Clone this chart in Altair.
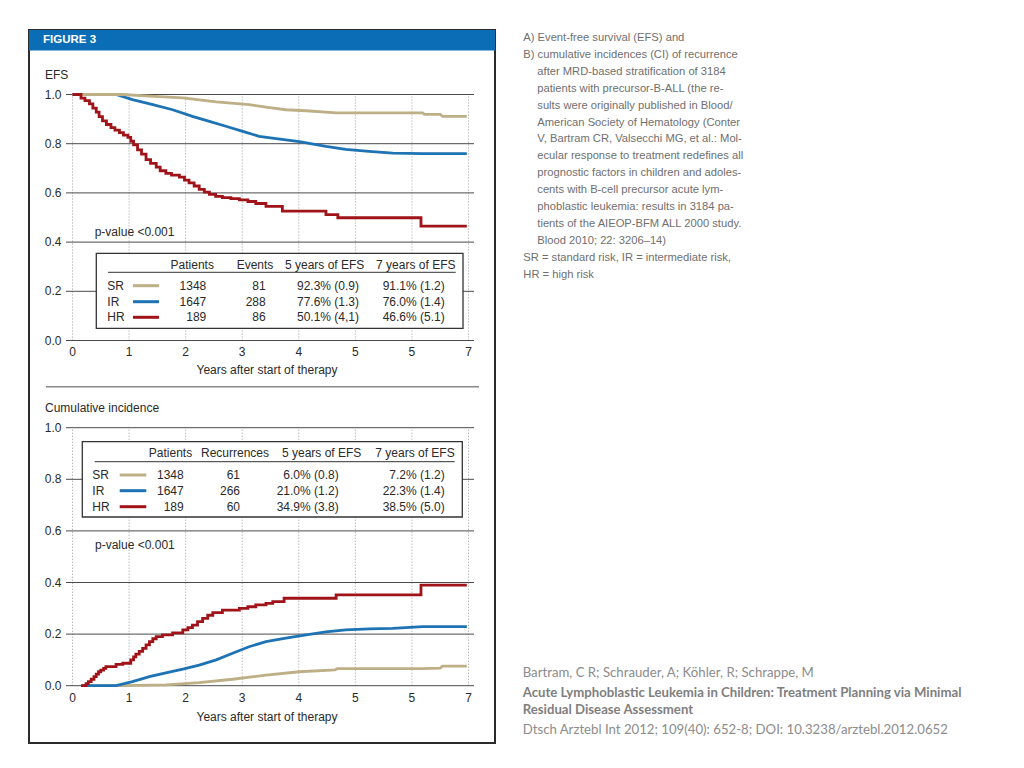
import altair as alt
import pandas as pd

# ---------------- data ----------------
groups = ["SR", "IR", "HR"]
colors = ["#bdb086", "#1e73b4", "#a01419"]

year_ticks = [0, 1, 2, 3, 4, 5, 6, 7]
year_labels = ["0", "1", "2", "3", "4", "5", "5", "7"]
y_ticks = [0.0, 0.2, 0.4, 0.6, 0.8, 1.0]
y_labels = ["0.0", "0.2", "0.4", "0.6", "0.8", "1.0"]

# Panel A: event-free survival
efs_sr_t = [0, 0.89, 1.36, 1.95, 2.54, 3.12, 3.42, 3.77, 4.13, 4.66, 6.19, 6.22, 6.50, 6.54, 6.97]
efs_sr_v = [1.0, 1.0, 0.993, 0.986, 0.970, 0.959, 0.949, 0.938, 0.934, 0.925, 0.925, 0.919, 0.919, 0.911, 0.911]
efs_ir_t = [0, 0.77, 1.06, 1.42, 1.77, 2.12, 2.42, 2.71, 3.01, 3.30, 3.60, 4.01, 4.48, 4.83, 5.24, 5.66, 6.19, 6.97]
efs_ir_v = [1.0, 1.0, 0.979, 0.959, 0.938, 0.911, 0.891, 0.871, 0.850, 0.830, 0.821, 0.808, 0.789, 0.777, 0.769, 0.762, 0.760, 0.760]
efs_hr_t = [0, 0.15, 0.22, 0.30, 0.36, 0.42, 0.47, 0.53, 0.60, 0.68, 0.75, 0.83, 0.90, 0.98, 1.03, 1.08,
            1.15, 1.22, 1.30, 1.38, 1.48, 1.55, 1.65, 1.75, 1.89, 1.98, 2.06, 2.15, 2.24, 2.33, 2.42,
            2.53, 2.65, 2.80, 2.95, 3.10, 3.24, 3.42, 3.71, 4.48, 4.69, 6.16, 6.97]
efs_hr_v = [1.0, 0.985, 0.975, 0.962, 0.945, 0.928, 0.910, 0.893, 0.878, 0.865, 0.855, 0.845, 0.835,
            0.826, 0.810, 0.795, 0.775, 0.758, 0.735, 0.720, 0.705, 0.690, 0.679, 0.672, 0.664, 0.652,
            0.641, 0.628, 0.614, 0.603, 0.594, 0.586, 0.581, 0.577, 0.572, 0.565, 0.557, 0.545, 0.526,
            0.512, 0.499, 0.465, 0.465]

# Panel B: cumulative incidence of recurrence
ci_sr_t = [0.17, 0.89, 1.65, 2.24, 2.83, 3.42, 4.01, 4.64, 4.68, 6.19, 6.50, 6.54, 6.97]
ci_sr_v = [0.0, 0.0, 0.003, 0.012, 0.025, 0.041, 0.054, 0.061, 0.066, 0.066, 0.068, 0.076, 0.076]
ci_ir_t = [0.17, 0.77, 1.06, 1.36, 1.65, 1.95, 2.24, 2.54, 2.83, 3.12, 3.42, 3.77, 4.13, 4.48, 4.83,
           5.24, 5.66, 6.19, 6.97]
ci_ir_v = [0.0, 0.0, 0.016, 0.035, 0.050, 0.064, 0.080, 0.100, 0.126, 0.151, 0.171, 0.184, 0.197,
           0.209, 0.216, 0.220, 0.222, 0.229, 0.229]
ci_hr_t = [0.15, 0.24, 0.28, 0.33, 0.38, 0.42, 0.46, 0.50, 0.55, 0.59, 0.77, 0.89, 1.03, 1.08, 1.12,
           1.18, 1.24, 1.30, 1.36, 1.42, 1.48, 1.59, 1.77, 1.95, 2.04, 2.12, 2.21, 2.30, 2.39, 2.48,
           2.65, 2.95, 3.10, 3.24, 3.42, 3.54, 3.74, 4.66, 6.16, 6.97]
ci_hr_v = [0.0, 0.008, 0.016, 0.025, 0.035, 0.045, 0.054, 0.060, 0.067, 0.074, 0.083, 0.087, 0.100,
           0.112, 0.122, 0.133, 0.145, 0.158, 0.171, 0.182, 0.190, 0.197, 0.205, 0.216, 0.225, 0.235,
           0.248, 0.261, 0.273, 0.283, 0.293, 0.300, 0.306, 0.313, 0.319, 0.326, 0.339, 0.352, 0.390,
           0.390]

efs_headers = ["Patients", "Events", "5 years of EFS", "7 years of EFS"]
efs_patients = ["1348", "1647", "189"]
efs_events = ["81", "288", "86"]
efs_5y = ["92.3% (0.9)", "77.6% (1.3)", "50.1% (4,1)"]
efs_7y = ["91.1% (1.2)", "76.0% (1.4)", "46.6% (5.1)"]

ci_headers = ["Patients", "Recurrences", "5 years of EFS", "7 years of EFS"]
ci_patients = ["1348", "1647", "189"]
ci_recur = ["61", "266", "60"]
ci_5y = ["6.0% (0.8)", "21.0% (1.2)", "34.9% (3.8)"]
ci_7y = ["7.2% (1.2)", "22.3% (1.4)", "38.5% (5.0)"]

figure_label = "FIGURE 3"
efs_title = "EFS"
ci_title = "Cumulative incidence"
x_title = "Years after start of therapy"
pvalue_text = "p-value <0.001"

caption_lines = [
    "A) Event-free survival (EFS) and",
    "B) cumulative incidences (CI) of recurrence",
    "after MRD-based stratification of 3184",
    "patients with precursor-B-ALL (the re-",
    "sults were originally published in Blood/",
    "American Society of Hematology (Conter",
    "V, Bartram CR, Valsecchi MG, et al.: Mol-",
    "ecular response to treatment redefines all",
    "prognostic factors in children and adoles-",
    "cents with B-cell precursor acute lym-",
    "phoblastic leukemia: results in 3184 pa-",
    "tients of the AIEOP-BFM ALL 2000 study.",
    "Blood 2010; 22: 3206\u201314)",
    "SR = standard risk, IR = intermediate risk,",
    "HR = high risk",
]
citation_authors = "Bartram, C R; Schrauder, A; K\u00f6hler, R; Schrappe, M"
citation_title = ["Acute Lymphoblastic Leukemia in Children: Treatment Planning via Minimal",
                  "Residual Disease Assessment"]
citation_source = "Dtsch Arztebl Int 2012; 109(40): 652-8; DOI: 10.3238/arztebl.2012.0652"

# ---------------- layout ----------------
M = 8  # page margin
X0, X7 = 72.5, 468.5
PPY = (X7 - X0) / 7.0
TOP_Y0, TOP_Y1 = 340.5, 94.5
BOT_Y0, BOT_Y1 = 685.7, 427.7
GRID_X0, GRID_X1 = 66.0, 474.0
FONT = "Liberation Sans, Arial, Helvetica, sans-serif"
CAP_FONT = "Liberation Sans, Arial, Helvetica, sans-serif"
CITE_FONT = "Lato, Open Sans, sans-serif"
TXT = "#2a2a2a"


def yr(px):
    return (px - X0) / PPY


def vt(py):
    return (TOP_Y0 - py) / (TOP_Y0 - TOP_Y1)


def vb(py):
    return (BOT_Y0 - py) / (BOT_Y0 - BOT_Y1)


xs = alt.Scale(domain=[0, 7], range=[X0 - M, X7 - M], nice=False, zero=False)
ys_top = alt.Scale(domain=[0, 1], range=[TOP_Y0 - M, TOP_Y1 - M], nice=False, zero=False)
ys_bot = alt.Scale(domain=[0, 1], range=[BOT_Y0 - M, BOT_Y1 - M], nice=False, zero=False)
cscale = alt.Scale(domain=groups, range=colors)


def one():
    return pd.DataFrame({"k": [0]})


def vtext(text, px, py, align="left", size=12, color=TXT, font=FONT, weight="normal"):
    return alt.Chart(one()).mark_text(
        text=text, align=align, baseline="middle", fontSize=size, color=color,
        font=font, fontWeight=weight
    ).encode(x=alt.value(px - M), y=alt.value(py - M))


def build_panel(ys, conv, curves, headers, cols, tb, label_py):
    layers = []
    gv = pd.DataFrame({"t": year_ticks})
    gv["y1"] = 0.0
    gv["y2"] = 1.0
    layers.append(alt.Chart(gv).mark_rule(color="#9a9a9a", strokeWidth=1, strokeDash=[1, 2]).encode(
        x=alt.X("t:Q", scale=xs, axis=None),
        y=alt.Y("y1:Q", scale=ys, axis=None), y2="y2:Q"))
    gh = pd.DataFrame({"v": y_ticks})
    gh["x1"] = yr(GRID_X0)
    gh["x2"] = yr(GRID_X1)
    layers.append(alt.Chart(gh).mark_rule(color="#4a4a4a", strokeWidth=1).encode(
        x=alt.X("x1:Q", scale=xs, axis=None), x2="x2:Q",
        y=alt.Y("v:Q", scale=ys, axis=None)))
    # tick labels
    yl = pd.DataFrame({"v": y_ticks, "lab": y_labels})
    yl["lx"] = yr(61.5)
    layers.append(alt.Chart(yl).mark_text(align="right", baseline="middle", fontSize=12,
                                          font=FONT, color=TXT).encode(
        x=alt.X("lx:Q", scale=xs, axis=None), y=alt.Y("v:Q", scale=ys, axis=None), text="lab:N"))
    xl = pd.DataFrame({"t": year_ticks, "lab": year_labels})
    xl["ly"] = conv(label_py)
    layers.append(alt.Chart(xl).mark_text(align="center", baseline="middle", fontSize=12,
                                          font=FONT, color=TXT).encode(
        x=alt.X("t:Q", scale=xs, axis=None), y=alt.Y("ly:Q", scale=ys, axis=None), text="lab:N"))
    # curves
    for t, v, g, interp in curves:
        d = pd.DataFrame({"t": t, "v": v, "i": range(len(t)), "g": g})
        layers.append(alt.Chart(d).mark_line(strokeWidth=2.8, interpolate=interp).encode(
            x=alt.X("t:Q", scale=xs, axis=None), y=alt.Y("v:Q", scale=ys, axis=None),
            order="i:Q", color=alt.Color("g:N", scale=cscale, legend=None)))
    # legend table box
    box = pd.DataFrame({"x1": [yr(tb["box"][0])], "x2": [yr(tb["box"][1])],
                        "y1": [conv(tb["box"][2])], "y2": [conv(tb["box"][3])]})
    layers.append(alt.Chart(box).mark_rect(fill="white", stroke="#333333", strokeWidth=1.3).encode(
        x=alt.X("x1:Q", scale=xs, axis=None), x2="x2:Q",
        y=alt.Y("y1:Q", scale=ys, axis=None), y2="y2:Q"))
    ul = pd.DataFrame({"x1": [yr(tb["ul"][0])], "x2": [yr(tb["ul"][1])], "y": [conv(tb["ul"][2])]})
    layers.append(alt.Chart(ul).mark_rule(color="#333333", strokeWidth=1).encode(
        x=alt.X("x1:Q", scale=xs, axis=None), x2="x2:Q", y=alt.Y("y:Q", scale=ys, axis=None)))
    rows_y = [conv(p) for p in tb["rows"]]
    sw = pd.DataFrame({"g": groups, "y": rows_y})
    sw["x1"] = yr(tb["swatch"][0])
    sw["x2"] = yr(tb["swatch"][1])
    layers.append(alt.Chart(sw).mark_rule(strokeWidth=3).encode(
        x=alt.X("x1:Q", scale=xs, axis=None), x2="x2:Q", y=alt.Y("y:Q", scale=ys, axis=None),
        color=alt.Color("g:N", scale=cscale, legend=None)))
    # row labels
    rl = pd.DataFrame({"txt": groups, "y": rows_y})
    rl["x"] = yr(tb["label_x"])
    layers.append(alt.Chart(rl).mark_text(align="left", baseline="middle", fontSize=12,
                                          font=FONT, color=TXT).encode(
        x=alt.X("x:Q", scale=xs, axis=None), y=alt.Y("y:Q", scale=ys, axis=None), text="txt:N"))
    # values (right aligned)
    recs = []
    for col, px in zip(cols, tb["val_x"]):
        for val, y in zip(col, rows_y):
            recs.append({"txt": val, "x": yr(px), "y": y})
    layers.append(alt.Chart(pd.DataFrame(recs)).mark_text(
        align="right", baseline="middle", fontSize=12, font=FONT, color=TXT).encode(
        x=alt.X("x:Q", scale=xs, axis=None), y=alt.Y("y:Q", scale=ys, axis=None), text="txt:N"))
    hd = pd.DataFrame({"txt": headers, "x": [yr(p) for p in tb["head_x"]]})
    hd["y"] = conv(tb["head_y"])
    layers.append(alt.Chart(hd).mark_text(
        align="center", baseline="middle", fontSize=12, font=FONT, color=TXT).encode(
        x=alt.X("x:Q", scale=xs, axis=None), y=alt.Y("y:Q", scale=ys, axis=None), text="txt:N"))
    return alt.layer(*layers)


top_table = {
    "box": (96.3, 463.0, 253.3, 328.3),
    "ul": (108.0, 455.7, 272.3),
    "rows": (285.7, 301.7, 317.3),
    "swatch": (133.0, 159.0),
    "label_x": 107.3,
    "val_x": (206.3, 265.7, 359.0, 444.7),
    "head_x": (192.2, 255.0, 324.7, 415.8),
    "head_y": 265.0,
}
bot_table = {
    "box": (82.3, 462.3, 441.7, 517.0),
    "ul": (94.7, 454.7, 461.7),
    "rows": (475.0, 490.7, 506.7),
    "swatch": (119.7, 146.3),
    "label_x": 92.3,
    "val_x": (183.7, 240.0, 338.7, 444.7),
    "head_x": (170.5, 235.0, 321.7, 415.0),
    "head_y": 453.3,
}

top = build_panel(
    ys_top, vt,
    [(efs_ir_t, efs_ir_v, "IR", "linear"), (efs_sr_t, efs_sr_v, "SR", "linear"),
     (efs_hr_t, efs_hr_v, "HR", "step-after")],
    efs_headers, [efs_patients, efs_events, efs_5y, efs_7y], top_table, 351.5)

bot = build_panel(
    ys_bot, vb,
    [(ci_sr_t, ci_sr_v, "SR", "linear"), (ci_ir_t, ci_ir_v, "IR", "linear"),
     (ci_hr_t, ci_hr_v, "HR", "step-after")],
    ci_headers, [ci_patients, ci_recur, ci_5y, ci_7y], bot_table, 698.0)

# caption block on the right
cap = pd.DataFrame({"txt": caption_lines, "ln": range(len(caption_lines))})
cap["ind"] = [1 if 2 <= i <= 12 else 0 for i in range(len(caption_lines))]
caption = alt.Chart(cap).mark_text(align="left", baseline="middle", fontSize=11.2,
                                   font=CAP_FONT, color="#6f6f6f").encode(
    x=alt.X("ind:Q", scale=alt.Scale(domain=[0, 1], range=[523.3 - M, 537.3 - M]), axis=None),
    y=alt.Y("ln:Q", scale=alt.Scale(domain=[0, len(caption_lines) - 1], range=[38 - M, 274.7 - M]),
            axis=None),
    text="txt:N")

frame = alt.Chart(one()).mark_rect(fillOpacity=0, stroke="#2b2b2b", strokeWidth=2).encode(
    x=alt.value(29 - M), x2=alt.value(495 - M), y=alt.value(30 - M), y2=alt.value(743 - M))
header = alt.Chart(one()).mark_rect(color="#0b6db5").encode(
    x=alt.value(29 - M), x2=alt.value(495 - M), y=alt.value(30 - M), y2=alt.value(50.5 - M))
separator = alt.Chart(one()).mark_rule(color="#8a8a8a", strokeWidth=1.5).encode(
    x=alt.value(46 - M), x2=alt.value(479 - M), y=alt.value(386.7 - M))

deco = [
    frame, header, separator,
    vtext(figure_label, 43, 40, size=11.5, color="white", font=FONT, weight="bold"),
    vtext(efs_title, 45, 75),
    vtext(pvalue_text, 94.7, 231.7),
    vtext(x_title, 267, 370, align="center"),
    vtext(ci_title, 45, 408),
    vtext(pvalue_text, 95, 545),
    vtext(x_title, 267, 716.7, align="center"),
    vtext(citation_authors, 522.7, 673.3, size=13.2, color="#8c8c8c", font=CITE_FONT),
    vtext(citation_title[0], 522.7, 692.7, size=13.2, color="#7f7f7f", font=CITE_FONT, weight="bold"),
    vtext(citation_title[1], 522.7, 710.0, size=13.2, color="#7f7f7f", font=CITE_FONT, weight="bold"),
    vtext(citation_source, 522.7, 730.0, size=13.2, color="#8c8c8c", font=CITE_FONT),
]

chart = alt.layer(top, bot, caption, *deco).resolve_scale(
    x="independent", y="independent", color="independent"
).properties(
    width=1008, height=752, padding=0, autosize=alt.AutoSizeParams(type="none")
).configure_view(strokeWidth=0)

chart.save("out.html", embed_options={"renderer": "svg", "actions": False})
